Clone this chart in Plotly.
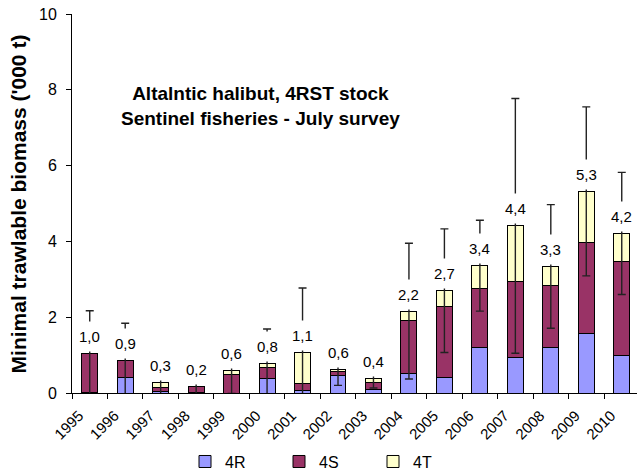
import plotly.graph_objects as go

years = ["1995", "1996", "1997", "1998", "1999", "2000", "2001", "2002",
         "2003", "2004", "2005", "2006", "2007", "2008", "2009", "2010"]
r4 = [0.01, 0.40, 0.04, 0.01, 0.00, 0.39, 0.07, 0.46, 0.09, 0.52, 0.41, 1.21, 0.95, 1.20, 1.56, 0.98]
s4 = [1.03, 0.45, 0.11, 0.17, 0.49, 0.28, 0.17, 0.10, 0.20, 1.39, 1.87, 1.54, 1.99, 1.64, 2.42, 2.49]
t4 = [0.00, 0.01, 0.13, 0.00, 0.10, 0.11, 0.84, 0.07, 0.09, 0.25, 0.42, 0.61, 1.47, 0.50, 1.34, 0.74]
err = [1.13, 0.98, 0.40, 0.35, 0.60, 0.91, 1.69, 0.43, 0.25, 1.79, 1.63, 1.20, 3.36, 1.63, 2.23, 1.61]

totals = [round(a + b + c, 2) for a, b, c in zip(r4, s4, t4)]
labels = [f"{v:.1f}".replace(".", ",") for v in totals]
idx = list(range(len(years)))

FONT = "Arial, Liberation Sans, sans-serif"
line = dict(color="black", width=1)
XRANGE = [-0.5, 15.43]

fig = go.Figure()
fig.add_trace(go.Bar(x=years, y=r4, name="4R", marker=dict(color="#9999FF", line=line)))
fig.add_trace(go.Bar(x=years, y=s4, name="4S", marker=dict(color="#993366", line=line)))
fig.add_trace(go.Bar(x=years, y=t4, name="4T", marker=dict(color="#FFFFCC", line=line)))
fig.add_trace(go.Scatter(
    x=idx, y=totals, xaxis="x2", yaxis="y", mode="markers", showlegend=False, hoverinfo="skip",
    marker=dict(size=1, color="rgba(0,0,0,0)"),
    error_y=dict(type="data", array=err, visible=True, color="#222222", thickness=1.4, width=4),
))

for i, (y, t) in enumerate(zip(totals, labels)):
    fig.add_annotation(x=i, y=y, xref="x", yref="y", text=t, showarrow=False, yshift=17,
                       yanchor="middle", bgcolor="white", borderpad=6,
                       font=dict(size=15, color="black", family=FONT))

fig.add_annotation(
    xref="paper", yref="paper", x=0.333, y=0.757, xanchor="center", yanchor="middle",
    showarrow=False,
    text="<b>Altalntic halibut, 4RST stock</b><br><b>Sentinel fisheries - July survey</b>",
    font=dict(size=19, color="black", family=FONT), align="center",
)

fig.add_annotation(
    xref="paper", yref="paper", x=-0.094, y=0.5, xanchor="center", yanchor="middle",
    showarrow=False, textangle=-90,
    text="<b>Minimal trawlable biomass ('000 t)</b>",
    font=dict(size=21, color="black", family=FONT),
)

fig.update_layout(
    width=637, height=471,
    margin=dict(l=72, r=0, t=14, b=78, autoexpand=False),
    barmode="stack", bargap=0.55,
    plot_bgcolor="white", paper_bgcolor="white",
    font=dict(family=FONT, color="black"),
    showlegend=True,
    legend=dict(orientation="h", x=0.200, xanchor="left", y=-0.181, yanchor="middle",
                traceorder="normal", entrywidth=49, entrywidthmode="pixels",
                itemwidth=30, font=dict(size=16, family=FONT)),
    xaxis=dict(type="category", range=XRANGE, showline=True, linecolor="black", linewidth=1,
               ticks="outside", ticklen=5, tickcolor="black", tickson="boundaries",
               showticklabels=False, showgrid=False, zeroline=False, automargin=False),
    xaxis2=dict(overlaying="x", anchor="y", side="bottom", type="linear", range=XRANGE,
                tickmode="array", tickvals=[i - 0.3 for i in idx], ticktext=years,
                tickangle=-45, ticks="", ticklabelstandoff=10, showline=False, showgrid=False,
                zeroline=False, tickfont=dict(size=15, family=FONT), automargin=False,
                ticklabeloverflow="allow"),
    yaxis=dict(range=[0, 10], dtick=2, showline=True, linecolor="black", linewidth=1,
               ticks="outside", ticklen=5, tickcolor="black", showgrid=False, zeroline=False,
               ticklabelstandoff=6, ticklabeloverflow="allow",
               tickfont=dict(size=16, family=FONT), automargin=False),
)

fig.write_html("out.html", config={"displayModeBar": False},
               post_script="document.body.style.margin='0';document.body.style.overflow='hidden';")
